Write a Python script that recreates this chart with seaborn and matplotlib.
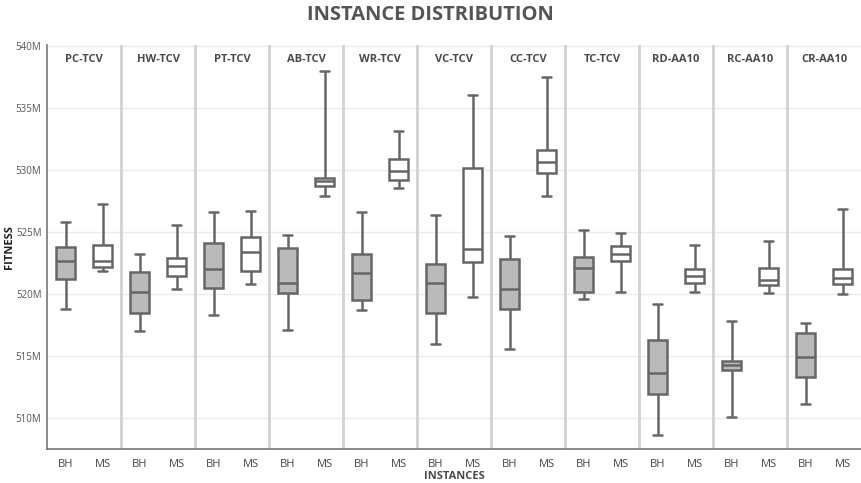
import numpy as np
import pandas as pd
import matplotlib
matplotlib.use("Agg")
import matplotlib.pyplot as plt
import matplotlib.ticker as mticker
import seaborn as sns

groups = ["PC-TCV", "HW-TCV", "PT-TCV", "AB-TCV", "WR-TCV", "VC-TCV",
          "CC-TCV", "TC-TCV", "RD-AA10", "RC-AA10", "CR-AA10"]
methods = ["BH", "MS"]

# five-number summaries, fitness in millions
bh_low  = [518.8, 517.0, 518.3, 517.1, 518.7, 516.0, 515.6, 519.6, 508.6, 510.1, 511.1]
bh_q1   = [521.2, 518.5, 520.5, 520.1, 519.5, 518.5, 518.8, 520.2, 511.9, 513.9, 513.3]
bh_med  = [522.7, 520.2, 522.0, 520.9, 521.7, 520.9, 520.4, 522.1, 513.6, 514.3, 514.9]
bh_q3   = [523.8, 521.8, 524.1, 523.7, 523.2, 522.4, 522.8, 523.0, 516.3, 514.6, 516.9]
bh_high = [525.8, 523.2, 526.6, 524.8, 526.6, 526.4, 524.7, 525.2, 519.2, 517.8, 517.7]

ms_low  = [521.9, 520.4, 520.8, 527.9, 528.6, 519.8, 527.9, 520.2, 520.2, 520.1, 520.0]
ms_q1   = [522.2, 521.5, 521.9, 528.7, 529.2, 522.6, 529.8, 522.7, 520.9, 520.7, 520.8]
ms_med  = [522.7, 522.3, 523.4, 529.1, 529.9, 523.6, 530.7, 523.2, 521.5, 521.1, 521.3]
ms_q3   = [524.0, 522.9, 524.6, 529.4, 530.9, 530.2, 531.6, 523.9, 522.0, 522.1, 522.0]
ms_high = [527.3, 525.6, 526.7, 538.0, 533.2, 536.1, 537.5, 524.9, 524.0, 524.3, 526.9]

rows = []
for i, g in enumerate(groups):
    for m, stats in [("BH", (bh_low, bh_q1, bh_med, bh_q3, bh_high)),
                     ("MS", (ms_low, ms_q1, ms_med, ms_q3, ms_high))]:
        for s in stats:
            rows.append({"slot": g + " " + m, "method": m, "fitness": s[i]})
df = pd.DataFrame(rows)
order = [g + " " + m for g in groups for m in methods]

sns.set_theme(style="white")
plt.rcParams["font.family"] = ["Open Sans", "DejaVu Sans"]

fig = plt.figure(figsize=(8.61, 4.83), dpi=100)
ax = fig.add_axes([0.0546, 0.0704, 0.9454, 0.8364])

sns.boxplot(data=df, x="slot", y="fitness", hue="method", order=order,
            hue_order=methods, palette={"BH": "#bababa", "MS": "#ffffff"},
            dodge=False, whis=(0, 100), width=0.52, linecolor="#666666",
            linewidth=1.8, legend=False, ax=ax, zorder=3)

ax.set_ylim(507.5, 540.1)
ax.set_xlim(-0.5, len(order) - 0.5)
ax.yaxis.set_major_locator(mticker.MultipleLocator(5))
ax.yaxis.set_major_formatter(mticker.FuncFormatter(lambda v, p: f"{v:.0f}M"))
ax.grid(axis="y", color="#ececec", linewidth=1, zorder=0)
ax.set_axisbelow(True)

ax.set_xticks(range(len(order)))
ax.set_xticklabels([m for g in groups for m in methods])
ax.tick_params(axis="x", labelsize=8, colors="#444444", length=4, width=1, pad=3)
ax.tick_params(axis="y", labelsize=7, colors="#555555", length=3, width=1, pad=1)
ax.tick_params(axis="x", color="#666666")
ax.tick_params(axis="y", color="#666666")

for s in ["top", "right"]:
    ax.spines[s].set_visible(False)
for s in ["left", "bottom"]:
    ax.spines[s].set_color("#777777")
    ax.spines[s].set_linewidth(1.2)

# separators between instance groups
for i in range(1, len(groups)):
    ax.axvline(2 * i - 0.5, color="#d2d2d2", linewidth=2, zorder=1)

trans = ax.get_xaxis_transform()
for i, g in enumerate(groups):
    ax.text(2 * i + 0.5, 0.965, g, transform=trans, ha="center", va="center",
            fontsize=8, fontweight="bold", color="#4a4a4a")

ax.set_xlabel("INSTANCES", fontsize=8, fontweight="bold", color="#4a4a4a")
ax.xaxis.set_label_coords(0.5, -0.067)
ax.xaxis.label.set_va("center")
ax.set_ylabel("FITNESS", fontsize=8, fontweight="bold", color="#222222")
ax.yaxis.set_label_coords(-0.046, 0.5)
ax.yaxis.label.set_va("center")
fig.text(0.5, 0.969, "INSTANCE DISTRIBUTION", ha="center", va="center",
         fontsize=14.5, fontweight="bold", color="#555555")

fig.savefig("out.png", dpi=100)
